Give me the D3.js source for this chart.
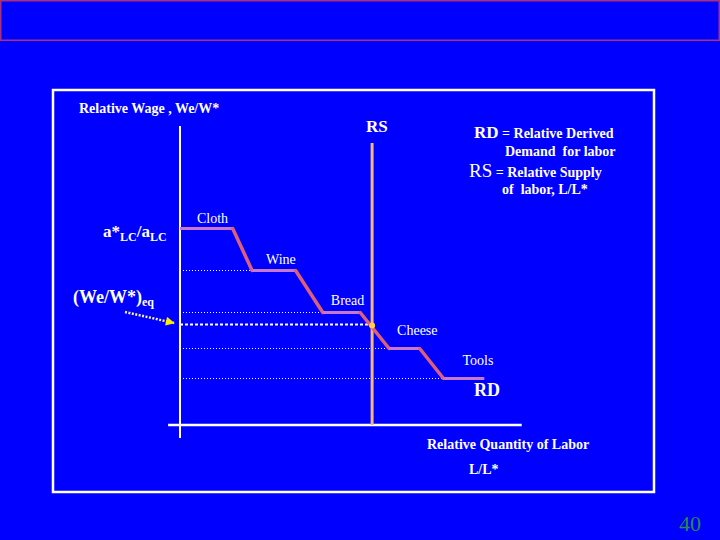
<!DOCTYPE html>
<html><head><meta charset="utf-8">
<script src="https://cdn.jsdelivr.net/npm/d3@7"></script>
<style>html,body{margin:0;padding:0;background:#0000ff;}svg{display:block;}text{white-space:pre;}</style>
</head><body>
<script>
// Data
const categories = ["Cloth", "Wine", "Bread", "Cheese", "Tools"];
const wageLevel  = [6.55, 5.15, 3.75, 2.55, 1.55];   // relative wage at each step
const stepStart  = [0.0, 2.12, 4.2, 6.15, 7.75];     // L/L* where each flat segment starts
const stepEnd    = [1.55, 3.4, 5.3, 7.05, 8.95];     // L/L* where each flat segment ends
const rsQuantity = 5.65;                             // relative supply of labor
const rsTop      = 9.4;
const eqWage     = 3.35;

const W = 720, H = 540;
const svg = d3.select("body").append("svg").attr("width", W).attr("height", H);
svg.append("rect").attr("width", W).attr("height", H).attr("fill", "#0000ff");

// top red box
svg.append("rect").attr("x", 0.75).attr("y", 0.75).attr("width", 718.5).attr("height", 39.5)
  .attr("fill", "none").attr("stroke", "#a8307a").attr("stroke-width", 1.5);
// white frame
svg.append("rect").attr("x", 53).attr("y", 90).attr("width", 601).attr("height", 402)
  .attr("fill", "none").attr("stroke", "#ffffff").attr("stroke-width", 2.5);

const x = d3.scaleLinear().domain([0, 10]).range([180, 520]);
const y = d3.scaleLinear().domain([0, 10]).range([425, 125]);
const serif = "'Liberation Serif', 'Times New Roman', serif";

// axes
svg.append("line").attr("x1", x(0)).attr("x2", x(0)).attr("y1", y(10) + 1).attr("y2", 438)
  .attr("stroke", "#ffffff").attr("stroke-width", 2);
svg.append("line").attr("x1", x(-0.35)).attr("x2", x(10.05)).attr("y1", y(0)).attr("y2", y(0))
  .attr("stroke", "#ffffff").attr("stroke-width", 2.5);

// dotted guide lines for levels 2..5
for (let i = 1; i < categories.length; i++) {
  svg.append("line").attr("x1", x(0)).attr("x2", x(stepStart[i]))
    .attr("y1", y(wageLevel[i])).attr("y2", y(wageLevel[i]))
    .attr("stroke", "#ffffff").attr("stroke-width", 1).attr("stroke-dasharray", "1,2");
}
// equilibrium dashed line
svg.append("line").attr("x1", x(0)).attr("x2", x(rsQuantity))
  .attr("y1", y(eqWage)).attr("y2", y(eqWage))
  .attr("stroke", "#ffffff").attr("stroke-width", 2).attr("stroke-dasharray", "3,2");

// RS line
svg.append("line").attr("x1", x(rsQuantity)).attr("x2", x(rsQuantity))
  .attr("y1", y(rsTop)).attr("y2", y(0))
  .attr("stroke", "#f2b874").attr("stroke-width", 3);

// RD step curve
for (let i = 0; i < categories.length; i++) {
  svg.append("line").attr("x1", x(stepStart[i])).attr("x2", x(stepEnd[i]))
    .attr("y1", y(wageLevel[i])).attr("y2", y(wageLevel[i]))
    .attr("stroke", "#c878c8").attr("stroke-width", 3);
  if (i < categories.length - 1) {
    svg.append("line").attr("x1", x(stepEnd[i])).attr("x2", x(stepStart[i + 1]))
      .attr("y1", y(wageLevel[i])).attr("y2", y(wageLevel[i + 1]))
      .attr("stroke", "#dc6078").attr("stroke-width", 3.5).attr("stroke-linecap", "round");
  }
}
// equilibrium point glow
svg.append("circle").attr("cx", x(rsQuantity)).attr("cy", y(eqWage) + 1).attr("r", 3)
  .attr("fill", "#ffd040");

// category labels
const labelDx = [17, 14, 8, 8, 19];
const labelDy = [-6, -7, -8, -14, -14];
categories.forEach((c, i) => {
  svg.append("text").attr("x", x(stepStart[i]) + labelDx[i])
    .attr("y", y(wageLevel[i]) + labelDy[i])
    .attr("fill", "#ffffff").attr("font-family", serif).attr("font-size", 14).text(c);
});

function txt(tx, ty, s, size, bold, anchor) {
  return svg.append("text").attr("x", tx).attr("y", ty).attr("fill", "#ffffff")
    .attr("font-family", serif).attr("font-size", size)
    .attr("font-weight", bold ? "bold" : "normal")
    .attr("text-anchor", anchor || "start").text(s);
}
txt(79, 113, "Relative Wage , We/W*", 14, true);
txt(366, 132, "RS", 17, true);
txt(474, 396, "RD", 18, true);
txt(427, 449, "Relative Quantity of Labor", 14, true);
txt(469, 474, "L/L*", 14, true);

// legend text
const t1 = txt(474, 138, "", 17, true);
t1.append("tspan").text("RD");
t1.append("tspan").attr("font-size", 14).text(" = Relative Derived");
txt(505, 156, "Demand  for labor", 14, true);
const t2 = txt(469, 177, "", 19, false);
t2.append("tspan").text("RS");
t2.append("tspan").attr("font-size", 14).attr("font-weight", "bold").text(" = Relative Supply");
txt(502, 194, "of  labor, L/L*", 14, true);

// y labels
const ya = txt(103, 237, "", 17, true);
ya.append("tspan").text("a*");
ya.append("tspan").attr("font-size", 12).attr("dy", 4).text("LC");
ya.append("tspan").attr("dy", -4).text("/a");
ya.append("tspan").attr("font-size", 12).attr("dy", 4).text("LC");

const ye = txt(73, 303, "", 18, true);
ye.append("tspan").text("(We/W*)");
ye.append("tspan").attr("font-size", 12).attr("dy", 3).text("eq");

// yellow arrow
svg.append("defs").append("marker").attr("id", "ah").attr("viewBox", "0 0 10 10")
  .attr("refX", 9).attr("refY", 5)
  .attr("orient", "auto").attr("markerUnits", "userSpaceOnUse")
  .attr("markerWidth", 12).attr("markerHeight", 9)
  .append("path").attr("d", "M0,0 L10,5 L0,10 Z").attr("fill", "#ffee00");
svg.append("line").attr("x1", 125).attr("y1", 312).attr("x2", 174).attr("y2", 323)
  .attr("stroke", "#f8f0b0").attr("stroke-width", 2.5).attr("stroke-dasharray", "2,1.5")
  .attr("marker-end", "url(#ah)");

// page number
svg.append("text").attr("x", 679).attr("y", 531).attr("fill", "#2a8a48")
  .attr("font-family", serif).attr("font-size", 22).text("40");
</script>
</body></html>
